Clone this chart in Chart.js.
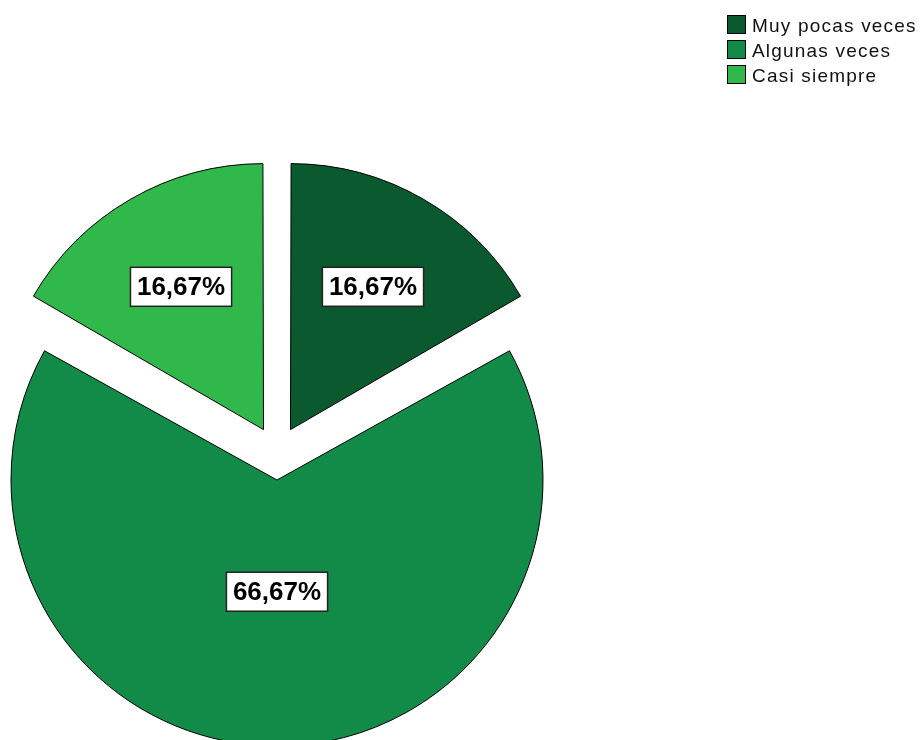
<!DOCTYPE html>
<html>
<head>
<meta charset="utf-8">
<script src="https://cdn.jsdelivr.net/npm/chart.js@4.4.1/dist/chart.umd.min.js"></script>
<style>
  body { margin: 0; background: #fff; }
  #wrap { position: relative; width: 920px; height: 740px; overflow: hidden; }
  #legend {
    position: absolute; left: 727px; top: 15px;
    font-family: "Liberation Sans", Arial, sans-serif; font-size: 19px;
    letter-spacing: 1.2px; color: #111;
  }
  .item { position: relative; height: 25px; }
  .swatch { position: absolute; left: 0; top: 0; width: 17px; height: 17px; border: 1px solid #000; }
  .text { position: absolute; left: 25px; top: 1px; line-height: 20px; white-space: nowrap; }
</style>
</head>
<body>
<div id="wrap">
  <canvas id="pie" width="920" height="740"></canvas>
  <div id="legend"></div>
</div>
<script>
const categories = ["Muy pocas veces", "Algunas veces", "Casi siempre"];
const percentages = [16.67, 66.67, 16.67];
const sliceColors = ["#0b5a2f", "#128b49", "#30b84b"];

const RADIUS = 266;   // visible pie radius in px
const EXPLODE = 27;   // how far every slice is pulled out

function arcFix(circumference) {
  // same radius correction Chart.js applies when it draws an offset arc
  return 1 - Math.sin(Math.min(Math.PI, circumference || 0));
}

function formatPercent(value) {
  return value.toFixed(2).replace(".", ",") + "%";
}

// Chart.js grows offset arcs a bit; keep every outer edge at RADIUS
const radiusFix = {
  id: "radiusFix",
  beforeDatasetDraw(chart, args) {
    args.meta.data.forEach((arc) => {
      const off = (arc.options.offset || 0) / 4;
      arc.outerRadius = RADIUS - off * arcFix(arc.circumference);
    });
  },
};

const boxLabels = {
  id: "boxLabels",
  afterDatasetsDraw(chart) {
    const ctx = chart.ctx;
    const meta = chart.getDatasetMeta(0);
    ctx.save();
    ctx.font = 'bold 26px "Liberation Sans", Arial, sans-serif';
    ctx.textAlign = "center";
    ctx.textBaseline = "middle";
    meta.data.forEach((arc, i) => {
      const mid = (arc.startAngle + arc.endAngle) / 2;
      const shift = (arc.options.offset || 0) / 4;
      const dist = RADIUS * (arc.circumference > Math.PI ? 0.42 : 0.62);
      const x = arc.x + Math.cos(mid) * (shift + dist);
      const y = arc.y + Math.sin(mid) * (shift + dist);
      const text = formatPercent(percentages[i]);
      const w = ctx.measureText(text).width + 13;
      const h = 39;
      ctx.fillStyle = "#fff";
      ctx.fillRect(x - w / 2, y - h / 2, w, h);
      ctx.strokeStyle = "#222";
      ctx.lineWidth = 1.5;
      ctx.strokeRect(x - w / 2, y - h / 2, w, h);
      ctx.fillStyle = "#000";
      ctx.fillText(text, x, y + 1);
    });
    ctx.restore();
  },
};

new Chart(document.getElementById("pie"), {
  type: "pie",
  data: {
    labels: categories,
    datasets: [
      {
        data: percentages,
        backgroundColor: sliceColors,
        borderColor: "#000",
        borderWidth: 1,
        borderJoinStyle: "miter",
        offset: 4 * EXPLODE,
        hoverOffset: 0,
        clip: false,
      },
    ],
  },
  options: {
    responsive: false,
    animation: false,
    radius: RADIUS,
    layout: { padding: { left: 0, right: 366, top: 166, bottom: 0 } },
    plugins: {
      legend: { display: false },
      tooltip: { enabled: false },
    },
    events: [],
  },
  plugins: [radiusFix, boxLabels],
});

const legend = document.getElementById("legend");
categories.forEach((name, i) => {
  legend.insertAdjacentHTML(
    "beforeend",
    `<div class="item"><span class="swatch" style="background:${sliceColors[i]}"></span><span class="text">${name}</span></div>`
  );
});
</script>
</body>
</html>
